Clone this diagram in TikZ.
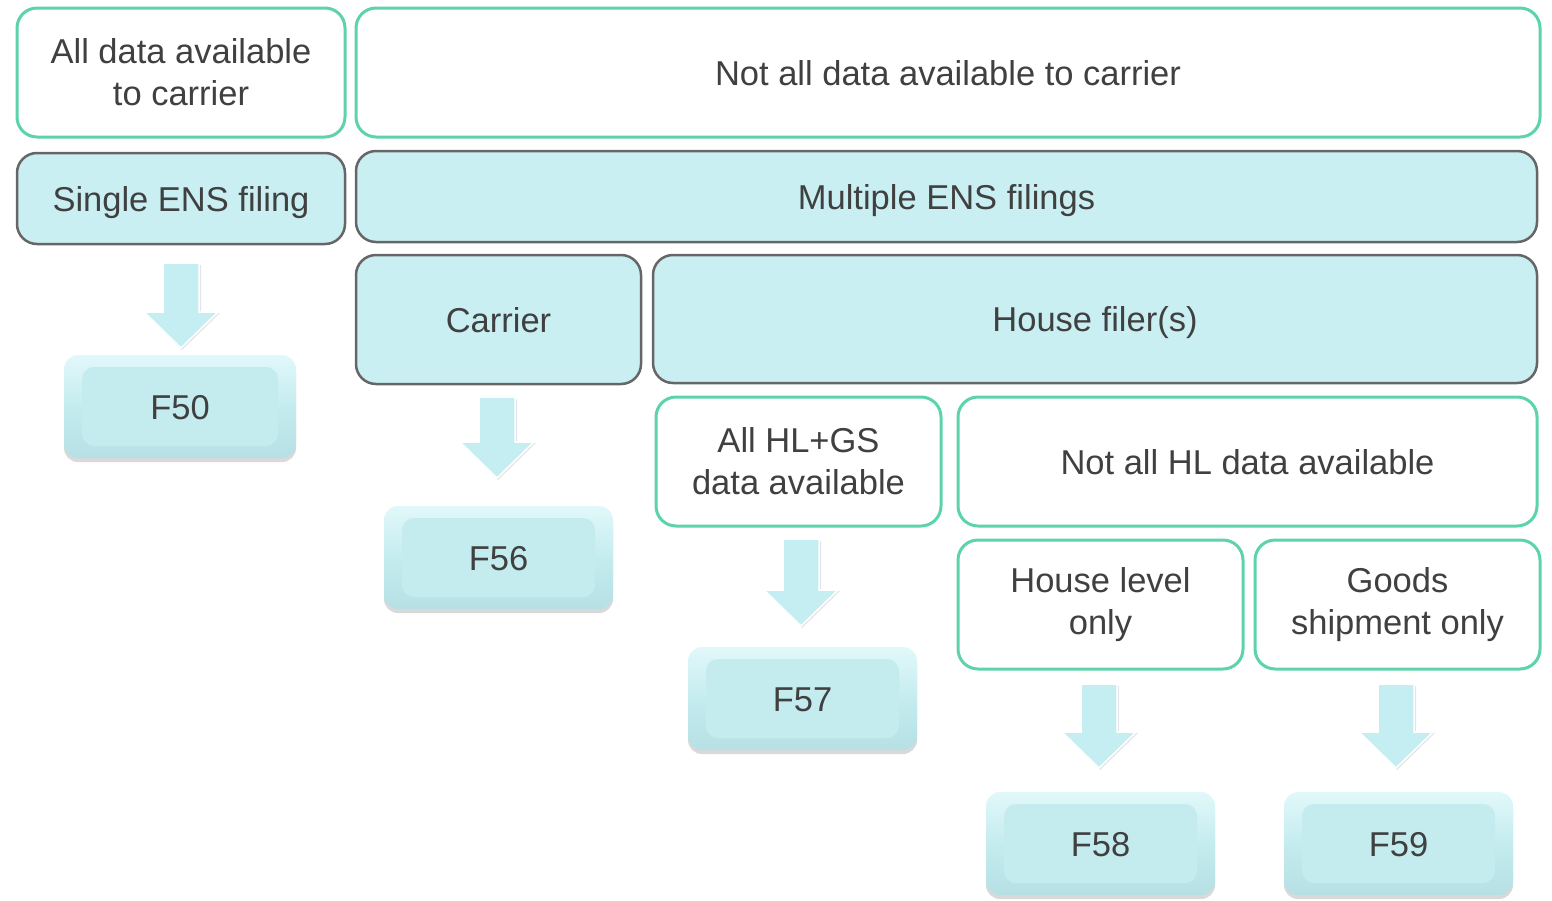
\documentclass[tikz,border=0pt]{standalone}
\usepackage{fontspec}
\setmainfont{Liberation Sans}
\usetikzlibrary{shadows}
\definecolor{grn}{HTML}{5CD3AC}
\definecolor{cyanfill}{HTML}{C9EFF2}
\definecolor{edgegray}{HTML}{666666}
\definecolor{txt}{HTML}{404040}
\definecolor{btn}{HTML}{C4ECEF}
\definecolor{btntop}{HTML}{E2F8FA}
\definecolor{btnbot}{HTML}{B6E0E4}
\definecolor{arrfill}{HTML}{C5EEF2}
\newcommand\blockarrow[4]{%
  \coordinate (#1) at (#2,#3);
  \fill[black!10] (#2-17,#3+2) -- (#2+20,#3+2) -- (#2+20,#4-35) -- (#2+39,#4-35) -- (#2+1,#4+2) -- (#2-36,#4-35) -- (#2-17,#4-35) -- cycle;
  \filldraw[arrowstyle] (#1) ++(-18,0) -- ++(36,0) -- (#2+18,#4-36) -- (#2+37,#4-36) -- (#2,#4) -- (#2-37,#4-36) -- (#2-18,#4-36) -- cycle;}
\begin{document}
\begin{tikzpicture}[x=1pt,y=-1pt,
  every node/.style={font=\fontsize{34.5}{42}\selectfont, text=txt, align=center, inner sep=0pt},
  oneline/.style={text height=25pt, text depth=0pt},
  cond/.style={draw=grn, line width=3pt, fill=white, rounded corners=20pt},
  filer/.style={draw=edgegray, line width=2.5pt, fill=cyanfill, rounded corners=20pt, oneline},
  button/.style={rounded corners=14pt, top color=btntop, bottom color=btnbot, middle color=btn,
    minimum width=229pt, minimum height=103pt, oneline,
    drop shadow={shadow xshift=0pt, shadow yshift=-4pt, opacity=0.3},
    path picture={\fill[btn, rounded corners=12pt]
      ([xshift=18pt,yshift=-12pt]path picture bounding box.north west) rectangle
      ([xshift=-18pt,yshift=12pt]path picture bounding box.south east);}},
  arrowstyle/.style={fill=arrfill, draw=white, line width=1.5pt, line join=miter}
]
\useasboundingbox (0,0) rectangle (1552,900);

% condition boxes (green outline)
\node[cond, minimum width=328pt, minimum height=129pt] (all) at (181,72.5) {All data available\\to carrier};
\node[cond, oneline, minimum width=1184pt, minimum height=129pt] (notall) at (948,72.5) {Not all data available to carrier};

% filing boxes
\node[filer, minimum width=328pt, minimum height=91pt] (single) at (181,198.5) {Single ENS filing};
\node[filer, minimum width=1181pt, minimum height=91pt] (multi) at (946.5,196.5) {Multiple ENS filings};
\node[filer, minimum width=285pt, minimum height=129pt] (carrier) at (498.5,319.5) {Carrier};
\node[filer, minimum width=884pt, minimum height=128pt] (house) at (1095,319) {House filer(s)};

\node[cond, minimum width=285pt, minimum height=129pt] (allhl) at (798.5,461.5) {All HL+GS\\data available};
\node[cond, oneline, minimum width=579pt, minimum height=129pt] (notallhl) at (1247.5,461.5) {Not all HL data available};
\node[cond, minimum width=285pt, minimum height=129pt] (hlonly) at (1100.5,604.5) {House level\\only};
\node[cond, minimum width=285pt, minimum height=129pt] (gsonly) at (1397.5,604.5) {Goods\\shipment only};

% arrows
\blockarrow{a1}{181}{263}{348}
\blockarrow{a2}{497}{397}{478}
\blockarrow{a3}{801}{539}{626}
\blockarrow{a4}{1099}{684}{768}
\blockarrow{a5}{1396}{684}{768}

% result buttons
\node[button, minimum width=232pt] (f50) at (180,406.5) {F50};
\node[button] (f56) at (498.5,557.5) {F56};
\node[button] (f57) at (802.5,698.5) {F57};
\node[button] (f58) at (1100.5,843.5) {F58};
\node[button] (f59) at (1398.5,843.5) {F59};
\end{tikzpicture}
\end{document}
